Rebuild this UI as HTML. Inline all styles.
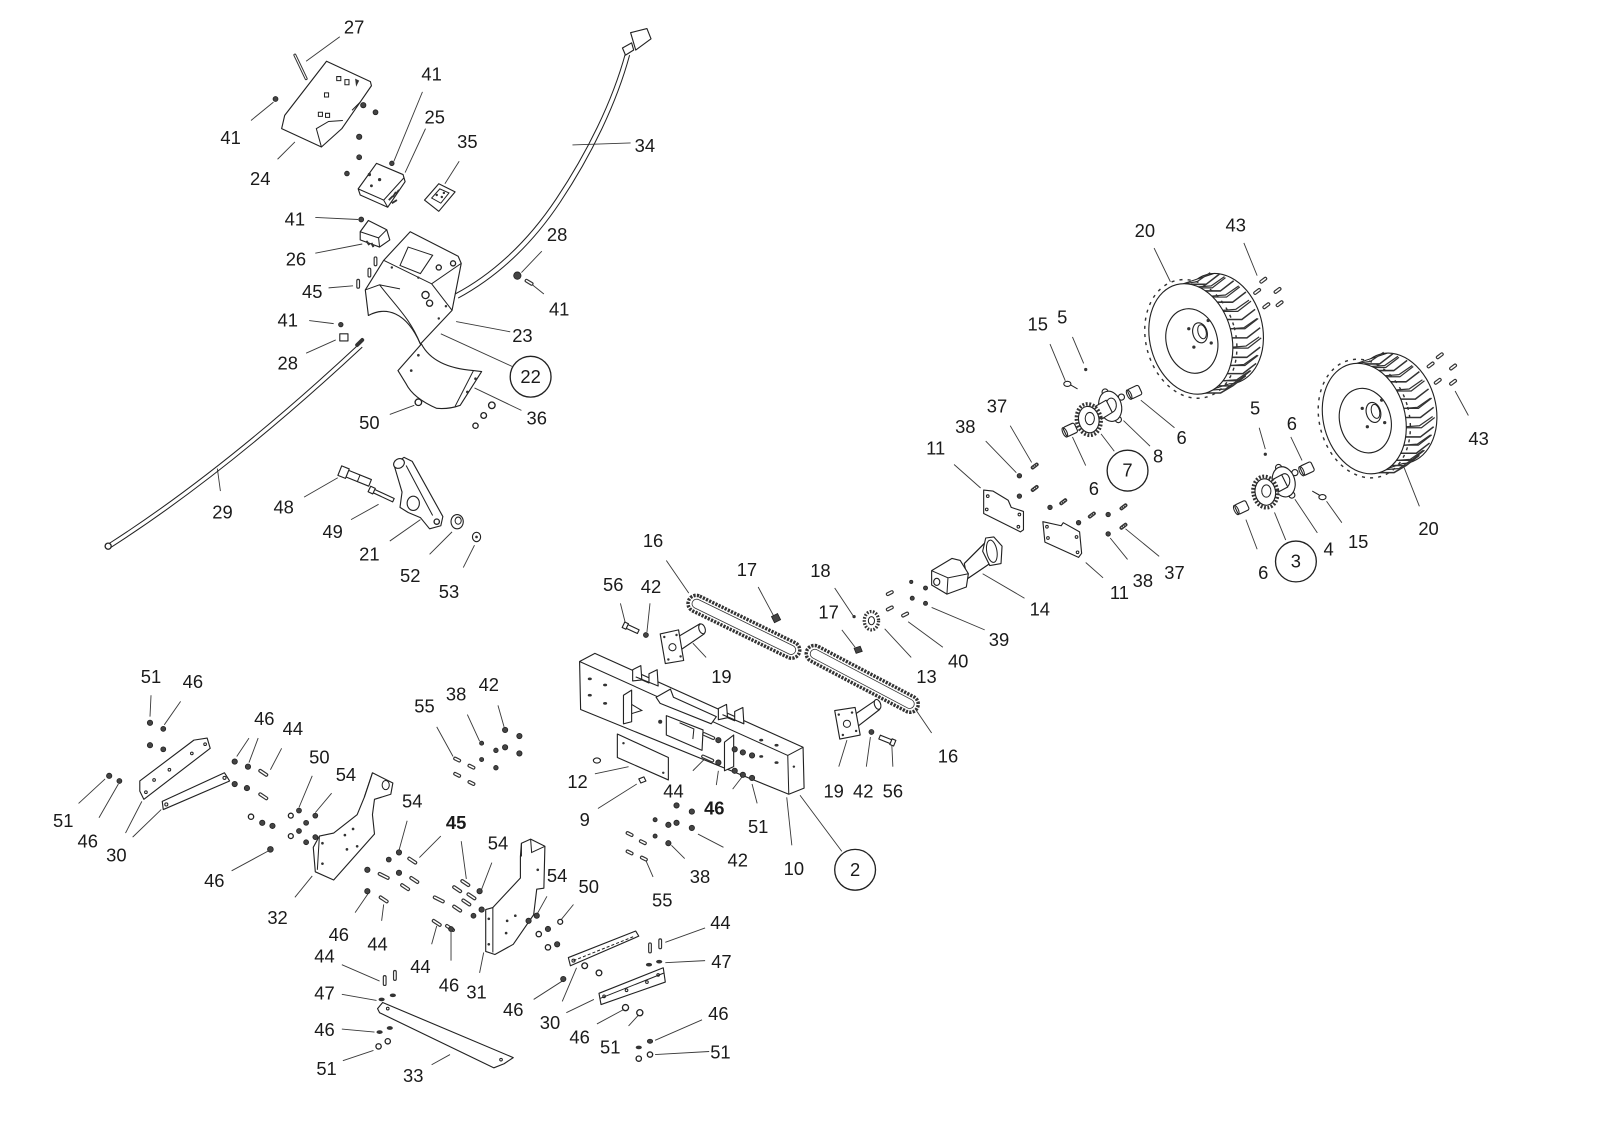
<!DOCTYPE html>
<html><head><meta charset="utf-8">
<style>
html,body{margin:0;padding:0;background:#fff;overflow:hidden}
svg{display:block}
text{font-family:"Liberation Sans",Arial,sans-serif;font-size:18px;fill:#1a1a1a;text-anchor:middle}
.l{stroke:#3a3a3a;stroke-width:0.9;fill:none}
.p{stroke:#222;stroke-width:1.1;fill:#fff;stroke-linejoin:round}
.q{stroke:#222;stroke-width:1;fill:none}
.n{stroke:#222;stroke-width:1.3;fill:#fff}
.k{fill:#444;stroke:#222;stroke-width:0.8}
.d{fill:#333;stroke:none}
.b{stroke:#333;stroke-width:3.8;stroke-linecap:round;fill:none}
.bi{stroke:#fff;stroke-width:1.5;stroke-linecap:round;fill:none}
.c{stroke:#222;stroke-width:1.3;fill:none}
.tr{stroke:#333;stroke-width:1.5;fill:none;stroke-linejoin:round}
.tr2{stroke:#333;stroke-width:1.2;fill:none;stroke-linejoin:round}
</style></head><body>
<svg width="1600" height="1125" viewBox="0 0 1568 1102" preserveAspectRatio="none" xmlns="http://www.w3.org/2000/svg">
<rect x="0" y="0" width="1568" height="1102" fill="#fff"/>

<!-- ================= LEADER LINES ================= -->
<path class="l" d="
M300,60L333,36 M246,118L268,100 M272,156L289,139 M414,90L386,158 M417,126L397,169 M450,158L436,180
M561,142L618,140 M309,213L351,215 M309,248L355,239 M531,246L511,267 M322,282L346,280 M533,288L518,276
M303,314L327,317 M447,315L500,325 M300,346L329,333 M432,327L502,359 M382,406L406,397 M465,380L511,402
M216,481L213,459 M298,487L331,468 M344,509L371,494 M382,530L412,509 M421,543L443,521 M454,556L465,534
M1131,243L1147,276 M1219,238L1232,270 M1029,337L1044,373 M1051,330L1062,356 M1118,392L1151,419
M1101,412L1127,437 M1079,425L1092,442 M1051,428L1064,456 M935,455L961,478 M966,432L996,463
M990,417L1011,453 M1064,551L1081,566 M1088,527L1105,548 M1103,518L1136,545 M1234,419L1240,440
M1265,428L1276,451 M1439,407L1426,383 M1391,496L1376,458 M1300,491L1315,512 M1269,489L1291,522
M1249,502L1260,529 M1221,509L1232,538 M963,562L1004,586 M913,595L965,617 M890,609L924,634
M867,616L893,644 M818,576L836,603 M825,617L838,634 M743,575L758,603 M653,549L675,581 M898,696L913,718
M608,591L613,611 M637,591L634,619 M679,630L692,644 M830,725L822,751 M853,722L849,751 M874,730L875,751
M583,758L616,751 M586,792L624,768 M679,755L691,743 M704,755L702,769 M737,768L742,787 M718,773L728,760
M771,781L776,828 M784,779L825,834 M684,817L709,830 M658,828L671,841 M633,843L640,859
M428,712L444,741 M458,700L470,726 M488,691L494,712
M148,681L147,702 M177,687L161,710 M123,816L139,785 M130,820L158,793 M77,787L103,763 M97,801L116,768
M244,723L232,741 M253,723L244,747 M276,733L265,754 M227,853L264,833 M306,760L293,791 M325,777L309,796
M306,858L289,879 M399,804L391,833 M432,819L411,840 M452,824L457,861 M348,894L361,875 M374,902L376,886
M482,845L472,871 M423,925L428,907 M442,941L442,912 M470,953L474,933 M536,878L526,896 M562,886L549,902
M551,981L565,948 M555,992L582,979 M523,979L551,961 M691,909L652,923 M691,941L652,943 M585,1003L611,989
M616,1005L626,994 M688,999L642,1019 M695,1030L642,1033 M423,1043L441,1033 M335,945L372,961
M335,974L369,980 M335,1008L367,1011 M336,1039L366,1029"/>

<!-- ================= TOP-LEFT ASSEMBLY ================= -->
<path d="M289,54L300,77" stroke="#333" stroke-width="3" stroke-linecap="round"/>
<path d="M289,54L300,77" stroke="#fff" stroke-width="1" stroke-linecap="round"/>
<path class="p" d="M320,60L363,80L364,84L353,100L335,126L315,144L276,126L279,113Z"/>
<path class="q" d="M315,144L310,126L322,119L336,118 M353,100L345,108"/>
<path class="q" d="M330,75h4v4h-4z M338,78h4v5h-4z M318,91h4v4h-4z M312,110h4v4h-4z M319,111h4v4h-4z"/>
<path d="M348,77l4,2l-3,6z" class="d"/>
<circle class="k" cx="270" cy="97" r="2.4"/>
<circle class="k" cx="356" cy="103" r="2.6"/>
<circle class="k" cx="368" cy="110" r="2.4"/>
<circle class="k" cx="352" cy="134" r="2.6"/>
<circle class="k" cx="352" cy="154" r="2.4"/>
<circle class="k" cx="340" cy="170" r="2.3"/>
<circle class="k" cx="384" cy="160" r="2.2"/>
<path class="p" d="M369,160L395,171L397,178L380,203L353,191L351,185Z"/>
<path class="q" d="M351,185L376,196L396,174 M376,196L380,203"/>
<circle class="d" cx="362" cy="171" r="1.6"/><circle class="d" cx="372" cy="176" r="1.6"/><circle class="d" cx="364" cy="182" r="1.4"/>
<path d="M381,196l4,-4 M385,193l3,-5 M388,190l3,-4 M384,199l5,-3" stroke="#333" stroke-width="1.8"/>
<path class="p" d="M416,196L430,180L446,188L430,207Z"/>
<path class="q" d="M423,194L431,185L440,189L432,199Z"/>
<circle class="d" cx="428" cy="191" r="1.2"/><circle class="d" cx="433" cy="193" r="1.2"/><circle class="d" cx="435" cy="189" r="1.2"/>
<circle class="k" cx="354" cy="215" r="2.4"/>
<path class="p" d="M361,216L379,225L382,235L372,242L353,235L353,227Z"/>
<path class="q" d="M353,227L371,233L379,225 M371,233L372,242"/>
<path d="M359,236l3,4 M364,238l2,4" stroke="#333" stroke-width="2"/>
<path class="b" d="M351,275L351,281 M362,264L362,270 M368,253L368,259"/>
<path class="bi" d="M351,275L351,281 M362,264L362,270 M368,253L368,259"/>
<path class="p" d="M402,227L449,251L452,258L443,304L412,337C398,305 378,300 361,309L358,284L376,255Z"/>
<path class="q" d="M376,255L423,278L452,258 M423,278L443,304 M358,284L372,279L392,283 M372,279C388,300 402,312 412,337"/>
<path class="q" d="M400,242L424,250L412,268L392,260Z"/>
<circle class="n" cx="417" cy="289" r="3.5"/><circle class="n" cx="421" cy="297" r="3"/>
<circle class="n" cx="430" cy="262" r="2.5"/><circle class="n" cx="444" cy="258" r="2.5"/>
<circle class="d" cx="384" cy="262" r="1.2"/><circle class="d" cx="410" cy="272" r="1.2"/><circle class="d" cx="437" cy="300" r="1.2"/><circle class="d" cx="430" cy="312" r="1.2"/>
<circle class="k" cx="334" cy="318" r="2.2"/>
<path class="p" d="M333,327h8v7h-8z"/>
<circle class="k" cx="507" cy="270" r="3.6"/>
<path class="b" d="M516,275L521,278"/><path class="bi" d="M516,275L521,278"/>
<path class="q" d="M613,52C600,100 575,150 545,195C515,240 480,270 446,288"/>
<path class="q" d="M617,54C604,102 579,153 549,198C519,243 484,273 449,292"/>
<path class="p" d="M618,32L634,28L638,38L623,49Z"/>
<path class="p" d="M610,47L619,42L621,49L613,54Z"/>
<path class="q" d="M352,337Q220,460 106,533"/>
<path class="q" d="M355,340Q223,463 109,536"/>
<circle class="n" cx="106" cy="535" r="3"/>
<path class="b" d="M350,338L355,333"/>
<path class="p" d="M413,337Q425,360 464,363L472,364L451,397Q440,401 428,400Q405,390 398,376L390,363Z"/>
<path class="q" d="M464,363L446,398"/>
<circle class="d" cx="410" cy="348" r="1.3"/><circle class="d" cx="403" cy="363" r="1.3"/><circle class="d" cx="466" cy="371" r="1.3"/><circle class="d" cx="458" cy="384" r="1.3"/>
<circle class="n" cx="410" cy="394" r="3.2"/>
<circle class="n" cx="482" cy="397" r="3.2"/><circle class="n" cx="474" cy="407" r="2.8"/><circle class="n" cx="466" cy="417" r="2.6"/>
<path class="p" d="M386,455L396,448L404,452L434,506L432,515L421,518L412,507L400,502L392,497L394,482Z"/>
<ellipse class="p" cx="391" cy="454" rx="5.5" ry="4.5" transform="rotate(-30 391 454)"/>
<ellipse class="p" cx="405" cy="493" rx="6" ry="7"/>
<circle class="n" cx="428" cy="511" r="2.6"/>
<path class="q" d="M398,456L424,505"/>
<g transform="translate(333,461) rotate(22)"><path class="p" d="M0,-5L8,-5L8,5L0,5Z M8,-3.5L32,-3.5L32,3.5L8,3.5Z"/><path class="q" d="M20,-3.5L20,3.5"/></g>
<g transform="translate(362,479) rotate(25)"><path class="p" d="M0,-3L5,-3L5,3L0,3Z M5,-1.8L26,-1.8L26,1.8L5,1.8Z"/></g>
<ellipse class="p" cx="448" cy="511" rx="6" ry="7"/><ellipse class="q" cx="449" cy="510" rx="3" ry="3.5"/>
<ellipse class="p" cx="467" cy="526" rx="4" ry="4.6"/><circle class="d" cx="467" cy="526" r="1.3"/>

<!-- ================= WHEELS ================= -->
<g transform="translate(1175,326)">
<ellipse cx="22" cy="-4" rx="40" ry="55" transform="rotate(-15 22 -4)" class="p"/>
<polygon points="-15.3,-48.1 14.7,-58.1 29.3,50.1 -0.7,60.1" fill="#fff"/>
<path class="q" d="M-15.3,-48.1L14.7,-58.1 M-0.7,60.1L29.3,50.1"/>
<path class="tr" d="M-8,-47.5L7,-47.5L20,-57.5 M6,-41L21,-41L34,-51 M18,-30L33,-30L46,-40 M27,-13L42,-13L55,-23 M32,5L47,5L60,-5 M32,24L47,24L60,14 M28,40L43,40L56,30 M18,52L33,52L46,42 M6,59L21,59L33,52"/>
<path class="tr2" d="M-2,-44L13,-44L26,-54 M12,-35L27,-35L40,-45 M23,-21L38,-21L51,-31 M30,-4L45,-4L58,-14 M33,15L48,15L61,5 M30,32L45,32L58,22 M23,47L38,47L51,37"/>
<path class="tr2" d="M-15,-48L-2,-50L11,-59 M-1,-45L12,-46L25,-55 M12.5,-36L26,-37L39,-46 M23,-22L36,-23L49,-32 M31,-4L44,-5L57,-14 M33,14L46,13L59,4 M31,32L44,31L57,22 M24,47L37,46L50,37 M13,56L26,55L39,46"/>
<ellipse cx="-8" cy="6" rx="44" ry="59" transform="rotate(-15 -8 6)" fill="none" stroke="#333" stroke-width="1.4" stroke-dasharray="3 5"/>
<ellipse cx="-8" cy="6" rx="40" ry="55" transform="rotate(-15 -8 6)" class="p"/>
<ellipse cx="-7" cy="8" rx="25" ry="32" transform="rotate(-15 -7 8)" class="p"/>
<ellipse cx="1" cy="0" rx="7" ry="10" transform="rotate(-15 1 0)" class="p"/>
<ellipse cx="3" cy="-1" rx="4" ry="7" transform="rotate(-15 3 -1)" class="q"/>
<circle class="d" cx="-10" cy="-4" r="1.6"/><circle class="d" cx="-5" cy="14" r="1.6"/><circle class="d" cx="12" cy="10" r="1.6"/><circle class="d" cx="9" cy="-12" r="1.6"/>
</g>
<g transform="translate(1345,404)">
<ellipse cx="22" cy="-4" rx="40" ry="55" transform="rotate(-15 22 -4)" class="p"/>
<polygon points="-15.3,-48.1 14.7,-58.1 29.3,50.1 -0.7,60.1" fill="#fff"/>
<path class="q" d="M-15.3,-48.1L14.7,-58.1 M-0.7,60.1L29.3,50.1"/>
<path class="tr" d="M-8,-47.5L7,-47.5L20,-57.5 M6,-41L21,-41L34,-51 M18,-30L33,-30L46,-40 M27,-13L42,-13L55,-23 M32,5L47,5L60,-5 M32,24L47,24L60,14 M28,40L43,40L56,30 M18,52L33,52L46,42 M6,59L21,59L33,52"/>
<path class="tr2" d="M-2,-44L13,-44L26,-54 M12,-35L27,-35L40,-45 M23,-21L38,-21L51,-31 M30,-4L45,-4L58,-14 M33,15L48,15L61,5 M30,32L45,32L58,22 M23,47L38,47L51,37"/>
<path class="tr2" d="M-15,-48L-2,-50L11,-59 M-1,-45L12,-46L25,-55 M12.5,-36L26,-37L39,-46 M23,-22L36,-23L49,-32 M31,-4L44,-5L57,-14 M33,14L46,13L59,4 M31,32L44,31L57,22 M24,47L37,46L50,37 M13,56L26,55L39,46"/>
<ellipse cx="-8" cy="6" rx="44" ry="59" transform="rotate(-15 -8 6)" fill="none" stroke="#333" stroke-width="1.4" stroke-dasharray="3 5"/>
<ellipse cx="-8" cy="6" rx="40" ry="55" transform="rotate(-15 -8 6)" class="p"/>
<ellipse cx="-7" cy="8" rx="25" ry="32" transform="rotate(-15 -7 8)" class="p"/>
<ellipse cx="1" cy="0" rx="7" ry="10" transform="rotate(-15 1 0)" class="p"/>
<ellipse cx="3" cy="-1" rx="4" ry="7" transform="rotate(-15 3 -1)" class="q"/>
<circle class="d" cx="-10" cy="-4" r="1.6"/><circle class="d" cx="-5" cy="14" r="1.6"/><circle class="d" cx="12" cy="10" r="1.6"/><circle class="d" cx="9" cy="-12" r="1.6"/>
</g>
<path class="b" d="M1236,276L1240,273 M1230,287L1234,284 M1250,286L1254,283 M1239,301L1243,298 M1252,299L1256,296
M1409,350L1413,347 M1400,359L1404,356 M1422,361L1426,358 M1407,375L1411,372 M1422,376L1426,373"/>
<path class="bi" d="M1236,276L1240,273 M1230,287L1234,284 M1250,286L1254,283 M1239,301L1243,298 M1252,299L1256,296
M1409,350L1413,347 M1400,359L1404,356 M1422,361L1426,358 M1407,375L1411,372 M1422,376L1426,373"/>

<!-- ================= SPROCKET ASSEMBLIES ================= -->
<path class="p" d="M1078,390L1090,386 M1073,405L1092,398"/>
<g>
<circle class="p" cx="1083" cy="384" r="3"/><circle class="p" cx="1099" cy="389" r="3"/><circle class="p" cx="1096" cy="411" r="3"/><circle class="p" cx="1080" cy="407" r="3"/>
<ellipse class="p" cx="1088" cy="398" rx="11" ry="15" transform="rotate(-15 1088 398)"/>
<ellipse class="q" cx="1089" cy="397" rx="5" ry="7"/>
</g>
<path class="p" d="M1070,400L1084,392L1090,404L1074,414Z"/>
<ellipse cx="1067" cy="411" rx="12" ry="15.5" transform="rotate(-10 1067 411)" fill="#fff" stroke="#333" stroke-width="3.5" stroke-dasharray="1.8 1.6"/>
<ellipse cx="1067" cy="411" rx="10" ry="13" transform="rotate(-10 1067 411)" class="p"/>
<ellipse cx="1068" cy="410" rx="4.5" ry="6" class="q"/>
<g transform="translate(1112,384) rotate(-25)"><rect class="p" x="-6" y="-5" width="12" height="10" rx="2"/><ellipse class="q" cx="-6" cy="0" rx="2" ry="5"/></g>
<g transform="translate(1049,421) rotate(-25)"><rect class="p" x="-6" y="-5" width="12" height="10" rx="2"/><ellipse class="q" cx="-6" cy="0" rx="2" ry="5"/></g>
<ellipse class="p" cx="1046" cy="376" rx="3.5" ry="2.5"/><path class="q" d="M1049,377L1056,381"/>
<circle class="d" cx="1064" cy="362" r="1.6"/>
<path class="p" d="M1243,471L1255,465 M1238,483L1258,476"/>
<g>
<circle class="p" cx="1253" cy="458" r="3"/><circle class="p" cx="1269" cy="463" r="3"/><circle class="p" cx="1266" cy="485" r="3"/><circle class="p" cx="1250" cy="481" r="3"/>
<ellipse class="p" cx="1258" cy="472" rx="11" ry="15" transform="rotate(-15 1258 472)"/>
<ellipse class="q" cx="1259" cy="471" rx="5" ry="7"/>
</g>
<path class="p" d="M1243,472L1256,465L1262,477L1247,485Z"/>
<ellipse cx="1240" cy="482" rx="12" ry="15.5" transform="rotate(-10 1240 482)" fill="#fff" stroke="#333" stroke-width="3.5" stroke-dasharray="1.8 1.6"/>
<ellipse cx="1240" cy="482" rx="10" ry="13" transform="rotate(-10 1240 482)" class="p"/>
<ellipse cx="1241" cy="481" rx="4.5" ry="6" class="q"/>
<g transform="translate(1281,459) rotate(-25)"><rect class="p" x="-6" y="-5" width="12" height="10" rx="2"/><ellipse class="q" cx="-6" cy="0" rx="2" ry="5"/></g>
<g transform="translate(1217,497) rotate(-25)"><rect class="p" x="-6" y="-5" width="12" height="10" rx="2"/><ellipse class="q" cx="-6" cy="0" rx="2" ry="5"/></g>
<ellipse class="p" cx="1296" cy="487" rx="3.5" ry="2.5"/><path class="q" d="M1293,485L1286,481"/>
<circle class="d" cx="1240" cy="445" r="1.6"/>

<!-- ================= PLATES 11, 37/38 ================= -->
<path class="p" d="M964,480L973,481L988,490L991,497L1003,501L1003,519L1000,521L964,503Z"/>
<circle class="q" cx="968" cy="486" r="1.3"/><circle class="q" cx="967" cy="499" r="1.3"/><circle class="q" cx="998" cy="516" r="1.3"/><circle class="q" cx="999" cy="504" r="1.3"/>
<path class="p" d="M1022,511L1040,515L1042,512L1058,521L1060,542L1057,546L1024,531Z"/>
<circle class="q" cx="1026" cy="516" r="1.3"/><circle class="q" cx="1027" cy="527" r="1.3"/><circle class="q" cx="1056" cy="541" r="1.3"/><circle class="q" cx="1055" cy="526" r="1.3"/>
<circle class="k" cx="999" cy="466" r="2.2"/><circle class="k" cx="999" cy="486" r="2.2"/>
<circle class="k" cx="1029" cy="497" r="2.2"/><circle class="k" cx="1057" cy="512" r="2.2"/>
<circle class="k" cx="1086" cy="504" r="2.2"/><circle class="k" cx="1086" cy="523" r="2.2"/>
<path class="b" d="M1012,458L1016,455 M1012,480L1016,477 M1040,493L1044,490 M1068,506L1072,503 M1099,498L1103,495 M1099,517L1103,514"/>
<path d="M1012,458L1016,455 M1012,480L1016,477 M1040,493L1044,490 M1068,506L1072,503 M1099,498L1103,495 M1099,517L1103,514" stroke="#fff" stroke-width="1" stroke-dasharray="1 1" fill="none"/>

<!-- ================= MOTOR 14 ================= -->
<path class="p" d="M945,552L966,531L976,548L948,567Z"/>
<path class="q" d="M945,552L966,531 M948,567L976,548"/>
<path class="p" d="M966,527L974,526L982,535L981,552L970,554L963,540Z"/>
<ellipse class="q" cx="972" cy="540" rx="5" ry="11" transform="rotate(-10 972 540)"/>
<path class="p" d="M913,559L933,547L941,549L949,562L947,575L928,582L913,573Z"/>
<path class="q" d="M913,559L929,566L949,562 M929,566L928,582"/>
<ellipse class="p" cx="918" cy="570" rx="3" ry="3.5"/>
<circle class="k" cx="907" cy="576" r="2"/><circle class="k" cx="907" cy="591" r="2"/>
<circle class="k" cx="893" cy="570" r="1.6"/><circle class="k" cx="894" cy="586" r="2"/>
<path class="b" d="M885,603L889,601 M870,582L874,580 M870,597L874,595"/>
<path class="bi" d="M885,603L889,601 M870,582L874,580 M870,597L874,595"/>
<ellipse cx="854" cy="608" rx="7" ry="9" fill="#fff" stroke="#333" stroke-width="3.2" stroke-dasharray="1.6 1.4"/>
<ellipse class="q" cx="854" cy="608" rx="3" ry="4"/>
<circle class="d" cx="837" cy="604" r="1.6"/>
<path class="k" d="M756,604l6,-3l3,6l-6,3z"/>
<path class="k" d="M837,635l6,-2l2,5l-6,2z"/>

<!-- ================= CHAINS 16 ================= -->
<g transform="translate(729,614) rotate(26)"><rect x="-60" y="-8" width="120" height="16" rx="8" fill="none" stroke="#333" stroke-width="3.4" stroke-dasharray="2.2 1.2"/><rect x="-56" y="-4.5" width="112" height="9" rx="4.5" fill="none" stroke="#333" stroke-width="0.8"/></g>
<g transform="translate(845,665) rotate(27.8)"><rect x="-61" y="-8" width="122" height="16" rx="8" fill="none" stroke="#333" stroke-width="3.4" stroke-dasharray="2.2 1.2"/><rect x="-57" y="-4.5" width="114" height="9" rx="4.5" fill="none" stroke="#333" stroke-width="0.8"/></g>

<!-- ================= 19 plates + shafts ================= -->
<path class="p" d="M664,624L686,611L690,621L668,636Z"/>
<ellipse class="p" cx="688" cy="616" rx="3" ry="5" transform="rotate(-20 688 616)"/>
<path class="p" d="M647,621L665,617L670,647L652,650Z"/>
<circle class="q" cx="659" cy="634" r="3.5"/>
<circle class="d" cx="651" cy="624" r="1.2"/><circle class="d" cx="663" cy="622" r="1.2"/><circle class="d" cx="655" cy="646" r="1.2"/><circle class="d" cx="667" cy="643" r="1.2"/>
<path class="p" d="M836,701L858,686L862,695L840,712Z"/>
<ellipse class="p" cx="860" cy="690" rx="3" ry="5" transform="rotate(-20 860 690)"/>
<path class="p" d="M818,696L838,693L843,720L823,724Z"/>
<circle class="q" cx="830" cy="709" r="3.5"/>
<circle class="d" cx="822" cy="700" r="1.2"/><circle class="d" cx="835" cy="698" r="1.2"/><circle class="d" cx="826" cy="720" r="1.2"/><circle class="d" cx="839" cy="716" r="1.2"/>
<g transform="translate(611,612) rotate(25)"><path class="p" d="M0,-3L4,-3L4,3L0,3Z M4,-2L16,-2L16,2L4,2Z"/></g>
<circle class="k" cx="633" cy="622" r="2.4"/>
<g transform="translate(862,722) rotate(22)"><path class="p" d="M0,-2L12,-2L12,2L0,2Z M12,-3L16,-3L16,3L12,3Z"/></g>
<circle class="k" cx="854" cy="717" r="2.4"/>

<!-- ================= FRAME 10 ================= -->
<path class="p" d="M568,648L583,640L787,732L788,772L773,778L569,695Z"/>
<path class="q" d="M568,648L772,740L787,732 M772,740L773,778"/>
<path class="p" d="M620,667L620,656L628,652L629,666Z M629,666L636,669L636,660L644,656L645,672L623,663"/>
<path class="p" d="M704,705L704,694L712,690L713,703Z M713,703L720,706L720,697L728,693L729,709L708,700"/>
<path class="p" d="M643,683L657,675L660,683L702,702L697,709L647,689Z"/>
<path class="p" d="M653,701L689,715L688,735L653,720Z"/>
<path class="q" d="M666,708L680,714L679,724"/>
<path class="p" d="M611,681L619,676L619,707L611,709Z"/>
<path class="q" d="M619,690L629,696L619,699"/>
<path class="p" d="M710,727L719,720L719,751L710,755Z"/>
<g class="d">
<ellipse cx="578" cy="665" rx="2" ry="1.3"/><ellipse cx="593" cy="671" rx="2" ry="1.3"/><ellipse cx="578" cy="681" rx="2" ry="1.3"/><ellipse cx="593" cy="689" rx="2" ry="1.3"/>
<ellipse cx="746" cy="725" rx="2" ry="1.3"/><ellipse cx="761" cy="730" rx="2" ry="1.3"/><ellipse cx="746" cy="741" rx="2" ry="1.3"/><ellipse cx="761" cy="747" rx="2" ry="1.3"/>
<circle cx="647" cy="707" r="2"/><circle cx="778" cy="751" r="1.2"/>
</g>
<circle class="k" cx="704" cy="725" r="2.6"/><circle class="k" cx="720" cy="734" r="2.6"/><circle class="k" cx="728" cy="737" r="2.6"/><circle class="k" cx="737" cy="740" r="2.6"/>
<circle class="k" cx="704" cy="747" r="2.6"/><circle class="k" cx="720" cy="755" r="2.6"/><circle class="k" cx="728" cy="759" r="2.6"/><circle class="k" cx="737" cy="762" r="2.6"/>
<path class="b" d="M690,719L699,723 M689,741L698,745"/>
<path class="bi" d="M690,719L699,723 M689,741L698,745"/>
<path class="p" d="M605,719L655,742L655,764L605,742Z"/>
<circle class="d" cx="611" cy="728" r="1.2"/><circle class="d" cx="650" cy="757" r="1.2"/>
<ellipse class="p" cx="585" cy="745" rx="3.5" ry="2.5"/>
<path class="p" d="M626,763l5,-2l2,4l-5,2z"/>
<circle class="k" cx="663" cy="789" r="2.6"/><circle class="k" cx="678" cy="795" r="2.6"/><circle class="k" cx="642" cy="803" r="2"/><circle class="k" cx="655" cy="808" r="2.6"/>
<circle class="k" cx="663" cy="806" r="2.6"/><circle class="k" cx="678" cy="811" r="2.6"/><circle class="k" cx="642" cy="819" r="2"/><circle class="k" cx="655" cy="826" r="2.6"/>
<path class="b" d="M615,816L619,818 M628,824L632,826 M615,834L619,836 M629,840L633,842"/>
<path class="bi" d="M615,816L619,818 M628,824L632,826 M615,834L619,836 M629,840L633,842"/>

<!-- ================= LOWER LEFT ================= -->
<circle class="k" cx="495" cy="715" r="2.6"/><circle class="k" cx="509" cy="721" r="2.6"/><circle class="k" cx="495" cy="732" r="2.6"/><circle class="k" cx="486" cy="735" r="2.2"/>
<circle class="k" cx="509" cy="738" r="2.6"/><circle class="k" cx="472" cy="728" r="2"/><circle class="k" cx="472" cy="744" r="2"/><circle class="k" cx="486" cy="752" r="2.2"/>
<path class="b" d="M446,743L450,745 M460,750L464,752 M446,758L450,760 M460,766L464,768"/>
<path class="bi" d="M446,743L450,745 M460,750L464,752 M446,758L450,760 M460,766L464,768"/>
<circle class="k" cx="147" cy="708" r="2.6"/><circle class="k" cx="160" cy="714" r="2.4"/><circle class="k" cx="147" cy="730" r="2.6"/><circle class="k" cx="160" cy="734" r="2.4"/>
<circle class="k" cx="107" cy="760" r="2.6"/><circle class="k" cx="117" cy="765" r="2.4"/>
<path class="p" d="M137,765L190,725L203,723L206,733L141,783L137,775Z"/>
<circle class="q" cx="143" cy="776" r="1.3"/><circle class="q" cx="151" cy="764" r="1.3"/><circle class="q" cx="166" cy="754" r="1.3"/><circle class="q" cx="188" cy="738" r="1.3"/><circle class="q" cx="201" cy="729" r="1.3"/>
<path class="p" d="M159,785L220,757L225,765L160,793Z"/>
<circle class="q" cx="163" cy="788" r="1.5"/><circle class="q" cx="220" cy="762" r="1.5"/>
<circle class="k" cx="230" cy="746" r="2.6"/><circle class="k" cx="243" cy="751" r="2.6"/><circle class="k" cx="230" cy="768" r="2.6"/><circle class="k" cx="242" cy="772" r="2.6"/>
<path class="b" d="M255,755L261,759 M255,778L261,782"/><path class="bi" d="M255,755L261,759 M255,778L261,782"/>
<circle class="n" cx="246" cy="800" r="2.6"/><circle class="k" cx="257" cy="806" r="2.6"/><circle class="k" cx="267" cy="809" r="2.6"/><circle class="k" cx="265" cy="832" r="2.8"/>
<circle class="n" cx="285" cy="799" r="2.4"/><circle class="k" cx="293" cy="794" r="2.4"/><circle class="n" cx="285" cy="819" r="2.4"/><circle class="k" cx="293" cy="814" r="2.4"/>
<circle class="k" cx="300" cy="806" r="2.4"/><circle class="k" cx="300" cy="825" r="2.4"/><circle class="k" cx="309" cy="820" r="2.4"/><circle class="k" cx="309" cy="799" r="2.4"/>
<path class="p" d="M365,757L385,767L383,778L367,783L365,798L367,817L327,862L309,854L307,830L313,819L327,816L350,798L357,781Z"/>
<ellipse class="q" cx="378" cy="769" rx="3.5" ry="4.5"/>
<path class="q" d="M313,819L311,852 M357,781L365,757"/>
<circle class="d" cx="338" cy="818" r="1.3"/><circle class="d" cx="346" cy="812" r="1.3"/><circle class="d" cx="340" cy="832" r="1.3"/><circle class="d" cx="350" cy="829" r="1.3"/><circle class="d" cx="316" cy="846" r="1.3"/><circle class="d" cx="316" cy="826" r="1.3"/>
<circle class="k" cx="391" cy="835" r="2.6"/><circle class="k" cx="381" cy="842" r="2.4"/><circle class="k" cx="391" cy="855" r="2.6"/><circle class="k" cx="360" cy="852" r="2.6"/><circle class="k" cx="360" cy="873" r="2.6"/>
<path class="b" d="M401,841L407,845 M403,860L409,864 M394,867L400,871 M372,856L380,860 M373,879L379,883"/>
<path class="bi" d="M401,841L407,845 M403,860L409,864 M394,867L400,871 M372,856L380,860 M373,879L379,883"/>
<path class="b" d="M453,863L459,867 M445,869L451,873 M459,876L465,880 M454,882L460,886 M426,879L434,883 M445,888L451,892 M425,902L431,906 M438,907L444,911"/>
<path class="bi" d="M453,863L459,867 M445,869L451,873 M459,876L465,880 M454,882L460,886 M426,879L434,883 M445,888L451,892 M425,902L431,906 M438,907L444,911"/>
<circle class="k" cx="470" cy="873" r="2.6"/><circle class="k" cx="472" cy="891" r="2.6"/><circle class="k" cx="464" cy="897" r="2.4"/><circle class="k" cx="442" cy="910" r="2.4"/>
<path class="p" d="M511,826L520,822L534,829L533,870L526,871L523,896L503,925L485,935L476,932L476,891L483,889L510,860L510,839Z"/>
<path class="q" d="M483,889L483,933 M511,826L511,839 M520,822L521,835L534,829"/>
<circle class="d" cx="479" cy="900" r="1.3"/><circle class="d" cx="479" cy="925" r="1.3"/><circle class="d" cx="497" cy="902" r="1.3"/><circle class="d" cx="505" cy="897" r="1.3"/><circle class="d" cx="496" cy="914" r="1.3"/><circle class="d" cx="527" cy="852" r="1.3"/>
<circle class="k" cx="518" cy="902" r="2.6"/><circle class="k" cx="526" cy="897" r="2.6"/><circle class="n" cx="528" cy="915" r="2.6"/><circle class="k" cx="537" cy="910" r="2.6"/><circle class="n" cx="537" cy="928" r="2.6"/><circle class="k" cx="546" cy="925" r="2.6"/><circle class="n" cx="549" cy="903" r="2.4"/>
<path class="p" d="M557,938L623,912L626,917L559,946Z"/>
<path class="q" d="M562,941L622,917" stroke-dasharray="3 2"/>
<circle class="q" cx="562" cy="941" r="1.5"/>
<path class="p" d="M587,973L650,948L652,962L589,984Z"/>
<path class="q" d="M588,978L651,953"/>
<circle class="q" cx="592" cy="976" r="1.3"/><circle class="q" cx="614" cy="970" r="1.3"/><circle class="q" cx="634" cy="962" r="1.3"/><circle class="q" cx="645" cy="955" r="1.3"/>
<circle class="k" cx="552" cy="959" r="2.6"/><circle class="n" cx="573" cy="946" r="2.8"/><circle class="n" cx="587" cy="953" r="2.8"/>
<path class="b" d="M637,925L637,932 M647,921L647,928"/><path class="bi" d="M637,925L637,932 M647,921L647,928"/>
<ellipse class="d" cx="636" cy="945" rx="3" ry="1.8"/><ellipse class="d" cx="646" cy="942" rx="3" ry="1.8"/>
<circle class="n" cx="613" cy="987" r="3"/><circle class="n" cx="627" cy="992" r="3"/>
<ellipse class="d" cx="626" cy="1026" rx="3" ry="1.8"/><ellipse class="k" cx="637" cy="1020" rx="2.6" ry="2"/>
<circle class="n" cx="626" cy="1037" r="2.6"/><circle class="n" cx="637" cy="1033" r="2.6"/>
<path class="p" d="M370,988L375,982L503,1036L494,1042L484,1046L372,992Z"/>
<circle class="q" cx="380" cy="988" r="1.3"/><circle class="q" cx="491" cy="1038" r="1.3"/>
<path class="b" d="M377,957L377,964 M387,952L387,959"/><path class="bi" d="M377,957L377,964 M387,952L387,959"/>
<ellipse class="d" cx="374" cy="979" rx="3" ry="1.8"/><ellipse class="d" cx="385" cy="975" rx="3" ry="1.8"/>
<ellipse class="d" cx="372" cy="1011" rx="3" ry="1.8"/><ellipse class="d" cx="382" cy="1007" rx="3" ry="1.8"/>
<circle class="n" cx="371" cy="1025" r="2.6"/><circle class="n" cx="380" cy="1020" r="2.6"/>

<!-- ================= CIRCLED LABELS ================= -->
<circle class="c" cx="520" cy="369" r="20"/>
<circle class="c" cx="1105" cy="461" r="20"/>
<circle class="c" cx="1270" cy="550" r="20"/>
<circle class="c" cx="838" cy="852" r="20"/>

<!-- ================= LABELS ================= -->
<g>
<text x="347" y="33">27</text><text x="423" y="79">41</text><text x="426" y="121">25</text><text x="458" y="145">35</text>
<text x="632" y="149">34</text><text x="226" y="141">41</text><text x="255" y="181">24</text><text x="289" y="221">41</text>
<text x="290" y="260">26</text><text x="546" y="236">28</text><text x="306" y="292">45</text><text x="548" y="309">41</text>
<text x="282" y="320">41</text><text x="512" y="335">23</text><text x="282" y="362">28</text><text x="520" y="375">22</text>
<text x="362" y="420">50</text><text x="526" y="416">36</text><text x="218" y="508">29</text><text x="278" y="503">48</text>
<text x="326" y="527">49</text><text x="362" y="549">21</text><text x="402" y="570">52</text><text x="440" y="586">53</text>

<text x="1122" y="232">20</text><text x="1211" y="227">43</text><text x="1017" y="324">15</text><text x="1041" y="317">5</text>
<text x="977" y="404">37</text><text x="946" y="424">38</text><text x="917" y="445">11</text><text x="1158" y="435">6</text>
<text x="1135" y="453">8</text><text x="1105" y="467">7</text><text x="1072" y="485">6</text><text x="1230" y="406">5</text>
<text x="1266" y="421">6</text><text x="1449" y="436">43</text><text x="1400" y="524">20</text><text x="1331" y="537">15</text>
<text x="1302" y="544">4</text><text x="1270" y="556">3</text><text x="1238" y="567">6</text><text x="1097" y="587">11</text>
<text x="1120" y="575">38</text><text x="1151" y="567">37</text><text x="1019" y="603">14</text><text x="979" y="633">39</text>
<text x="939" y="654">40</text><text x="908" y="669">13</text><text x="804" y="565">18</text><text x="812" y="606">17</text>
<text x="732" y="564">17</text><text x="640" y="536">16</text><text x="601" y="579">56</text><text x="638" y="581">42</text>
<text x="707" y="669">19</text><text x="929" y="747">16</text><text x="817" y="781">19</text><text x="846" y="781">42</text>
<text x="875" y="781">56</text>

<text x="566" y="772">12</text><text x="660" y="781">44</text><text x="573" y="809">9</text>
<text x="700" y="798" font-weight="bold">46</text><text x="743" y="816">51</text><text x="723" y="849">42</text>
<text x="778" y="857">10</text><text x="838" y="858">2</text><text x="686" y="865">38</text><text x="649" y="888">55</text>
<text x="416" y="698">55</text><text x="447" y="686">38</text><text x="479" y="677">42</text>

<text x="148" y="669">51</text><text x="189" y="674">46</text><text x="259" y="710">46</text><text x="287" y="720">44</text>
<text x="313" y="748">50</text><text x="339" y="765">54</text><text x="62" y="810">51</text><text x="86" y="830">46</text>
<text x="114" y="844">30</text><text x="404" y="791">54</text><text x="447" y="812" font-weight="bold">45</text><text x="210" y="869">46</text>
<text x="272" y="905">32</text><text x="488" y="832">54</text><text x="546" y="864">54</text><text x="577" y="875">50</text>
<text x="332" y="922">46</text><text x="370" y="931">44</text><text x="318" y="943">44</text><text x="412" y="953">44</text>
<text x="440" y="971">46</text><text x="467" y="978">31</text><text x="706" y="910">44</text><text x="707" y="948">47</text>
<text x="318" y="979">47</text><text x="503" y="995">46</text><text x="539" y="1008">30</text><text x="704" y="999">46</text>
<text x="568" y="1022">46</text><text x="318" y="1015">46</text><text x="598" y="1032">51</text><text x="706" y="1037">51</text>
<text x="320" y="1053">51</text><text x="405" y="1060">33</text>
</g>
</svg>
</body></html>
